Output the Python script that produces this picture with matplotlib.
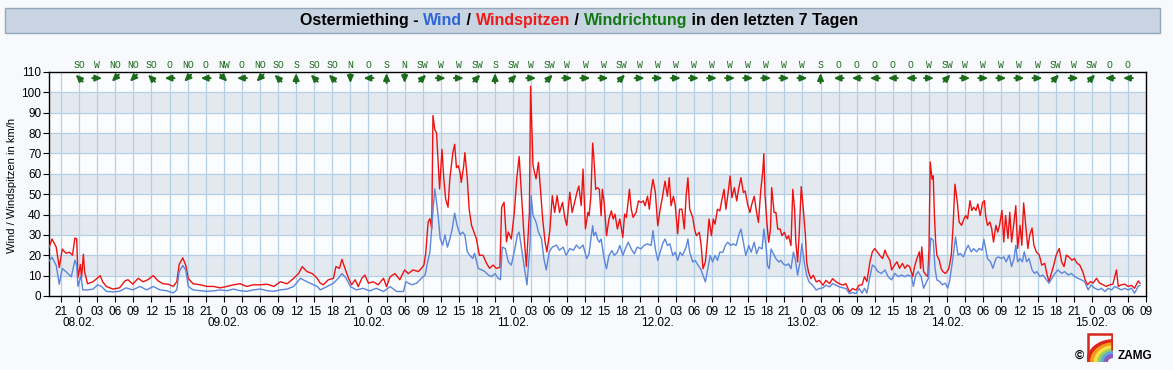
import matplotlib
matplotlib.use("Agg")
import matplotlib.pyplot as plt
from matplotlib.patches import Rectangle, Arc
from matplotlib.transforms import offset_copy
import numpy as np

plt.rcParams['font.family'] = ['Liberation Sans', 'DejaVu Sans']

# hours since 08.02. 00:00, km/h
gust_pts = [
    (-5.1, 23), (-4.5, 28), (-3.8, 24), (-3.3, 14), (-2.8, 23), (-2.2, 21), (-1.6, 21.5), (-1.1, 20),
    (-0.7, 28.5), (-0.4, 28), (-0.2, 9), (0.2, 15.5), (0.4, 9), (0.7, 20.5), (0.9, 12), (1.4, 6),
    (2.3, 7), (3.1, 9), (3.5, 10), (3.9, 7), (4.5, 4.7), (5.6, 3.4), (6.7, 4), (7.6, 7.4), (8.1, 8),
    (8.9, 5.8), (9.8, 8.7), (10.6, 7), (11.4, 8), (12.3, 10), (13.1, 7.4), (13.9, 6), (14.8, 5.8),
    (15.6, 4.7), (16.2, 7), (16.6, 15.5), (17.2, 18.7), (17.7, 15), (18.1, 8.7), (18.9, 6), (20.1, 5.5),
    (21.2, 4.7), (22.3, 4.7), (23.4, 4), (24.5, 4.7), (25.6, 5.5), (26.7, 6), (27.8, 4.7), (28.9, 5.5),
    (30.1, 5.5), (31.2, 5.8), (32.3, 4.7), (33.4, 7), (34.5, 6), (35.6, 8.7), (36.4, 11), (37.0, 14.4),
    (37.8, 12), (38.7, 11), (39.5, 8.7),
    (40.0, 6.3), (40.5, 5.5), (41.3, 7.9), (42.2, 8.7), (42.6, 14.4), (43.2, 13.6), (43.6, 18), (44.1, 13.6),
    (44.7, 8.7), (45.2, 5.5), (45.8, 8), (46.3, 4.6), (46.9, 8.7), (47.4, 10.3), (48.0, 6.3), (48.8, 7),
    (49.6, 5.5), (50.5, 8.7), (51.0, 4.6), (51.6, 9.5), (52.4, 11), (53.2, 8), (54.0, 12.8), (54.6, 11),
    (55.4, 12.8), (56.3, 12), (56.8, 13.6), (57.2, 15.2), (57.5, 20.9), (57.9, 36.3), (58.2, 38), (58.5, 33),
    (58.7, 88.6), (59.0, 81.8), (59.3, 80), (59.6, 64), (59.8, 52.6), (60.2, 72), (60.5, 57.5), (60.8, 47.7),
    (61.2, 43.6), (61.5, 57.5), (62.0, 70.4), (62.3, 74.5), (62.6, 63), (62.9, 64), (63.2, 60.7), (63.4, 55.8),
    (63.8, 64), (64.0, 70.4), (64.4, 57.5), (64.7, 42.8), (65.1, 34.7), (65.5, 31.4), (65.9, 28.2), (66.4, 20),
    (67.0, 20), (67.6, 16), (68.1, 13.6), (68.7, 15.2), (69.2, 13.6), (69.8, 14), (70.1, 43.6), (70.5, 46),
    (70.9, 26.6), (71.2, 31.4), (71.7, 28), (72.2, 41), (72.6, 57.5), (73.0, 68.5), (73.4, 49.3), (73.8, 30),
    (74.2, 14.4), (74.7, 41), (74.9, 103), (75.3, 64), (75.8, 57.5), (76.2, 65.6), (76.5, 54), (76.9, 38),
    (77.3, 26.6), (77.6, 21.7), (78.1, 32.3), (78.5, 49.3), (78.9, 41), (79.3, 49.3), (79.7, 41), (80.2, 46),
    (80.6, 38), (80.9, 34.7), (81.4, 51), (81.8, 41), (82.2, 46), (82.6, 51), (82.9, 54), (83.3, 44.4),
    (83.6, 62.3), (84.0, 33), (84.4, 41),
    (84.6, 39.4), (84.9, 49), (85.2, 75.1), (85.4, 67.8), (85.7, 52.4), (86.0, 53.2), (86.3, 52.4), (86.6, 39.4),
    (86.8, 52.4), (87.1, 45.9), (87.5, 29.6), (87.9, 37.8), (88.3, 41.8), (88.6, 37.8), (88.9, 40.2), (89.3, 32.9),
    (89.7, 37.8), (90.2, 28.8), (90.5, 40.2), (90.8, 38.6), (91.3, 52.4), (91.6, 42.6), (91.9, 38.6), (92.4, 41),
    (92.8, 46.7), (93.2, 45.9), (93.6, 46.7), (93.9, 44.3), (94.3, 49), (94.6, 42.6), (94.9, 51.6), (95.2, 57.3),
    (95.6, 50.8), (96.0, 34.5), (96.4, 42.6), (96.8, 49), (97.2, 56.4), (97.6, 49), (97.9, 58.1), (98.2, 44.3),
    (98.6, 49), (98.9, 44.3), (99.3, 30.5), (99.6, 42.6), (100.0, 42.6), (100.4, 32.9), (100.7, 49), (101.0, 58.1),
    (101.3, 42.6), (101.8, 38.6), (102.1, 32.9), (102.4, 29.6), (102.9, 31.3), (103.2, 24.8), (103.5, 13.4),
    (103.9, 16.7), (104.2, 26.4), (104.5, 37.8), (104.9, 29.6), (105.2, 37.8), (105.5, 35.3), (105.9, 42.6),
    (106.3, 41.8), (106.6, 46.7), (107.0, 52.4), (107.3, 42.6), (107.6, 49), (108.0, 58.9), (108.3, 48.3),
    (108.7, 53.2), (109.1, 46.7), (109.4, 52.4), (109.8, 58.1), (110.2, 50.8), (110.5, 51.6), (110.9, 45.1),
    (111.3, 41), (111.6, 45.1), (112.0, 49), (112.4, 41), (112.7, 36.1), (113.1, 52.4), (113.4, 60.5),
    (113.6, 69.9), (113.8, 49), (114.1, 36.1), (114.4, 26.4), (114.7, 32.9), (114.9, 53.2), (115.3, 41),
    (115.6, 41), (115.9, 32.9), (116.3, 32.9), (116.6, 29.6), (117.0, 31.3), (117.4, 28), (117.7, 29.6),
    (118.1, 24.8), (118.4, 52.4), (118.7, 42.6), (118.9, 26.4), (119.2, 16.7), (119.5, 32.9), (119.8, 53.7),
    (120.1, 44.3), (120.5, 29.6), (120.7, 16.7), (121.0, 11.8), (121.4, 8.5), (121.8, 10.2), (122.3, 6.9),
    (122.8, 7.7), (123.4, 5.3), (123.9, 7.7), (124.5, 6.1), (125.0, 8.5), (125.6, 6.9), (126.1, 6.1),
    (126.7, 5.3), (127.2, 6.1), (127.8, 2), (128.3, 3.7), (128.9, 2.9), (129.4, 5.3),
    (129.9, 5.5), (130.3, 9.5), (130.7, 7.1), (131.2, 16.8), (131.6, 21.7), (132.0, 23.3), (132.4, 21.7),
    (132.8, 20.1), (133.3, 18.4), (133.7, 22.5), (134.0, 20.1), (134.5, 17.6), (134.8, 12.8), (135.3, 15.2),
    (135.7, 16.8), (136.1, 13.6), (136.6, 16), (137.0, 13.6), (137.4, 15.2), (137.8, 14.4), (138.3, 9.5),
    (138.6, 14.4), (139.0, 18.4), (139.4, 21.7), (139.6, 13.6), (139.8, 24.1), (140.1, 12), (140.5, 10.3),
    (140.8, 9.5), (141.0, 23.3), (141.2, 65.8), (141.5, 57.4), (141.7, 59), (141.9, 39.5), (142.1, 26.5),
    (142.3, 20.1), (142.7, 17.6), (143.0, 13.6), (143.3, 12), (143.7, 11.1), (144.0, 12), (144.3, 13.6),
    (144.7, 20.1), (145.0, 34.7), (145.3, 54.9), (145.7, 46), (146.0, 36.3), (146.4, 34.7), (146.8, 37.9),
    (147.1, 39.5), (147.4, 37.9), (147.8, 46.8), (148.1, 42), (148.4, 43.6), (148.8, 42), (149.1, 45.2),
    (149.5, 39.5), (149.9, 46), (150.2, 46.8), (150.4, 39.5), (150.7, 34.7), (151.1, 36.3), (151.4, 33),
    (151.7, 26.5), (152.1, 34.7), (152.4, 31.4), (152.7, 34.7), (153.1, 42), (153.4, 26.5), (153.7, 39.5),
    (154.1, 28.2), (154.4, 41.1), (154.7, 26.5), (155.1, 36.3), (155.4, 44.4), (155.7, 23.3), (156.1, 34.7),
    (156.4, 24.9), (156.7, 45.7), (157.1, 33), (157.4, 23.3), (157.7, 29.8), (158.1, 33.4), (158.4, 24.9),
    (158.8, 21.7), (159.3, 20.1), (159.7, 15.2), (160.2, 16), (160.6, 10.3), (160.9, 7.1), (161.3, 11.1),
    (161.7, 15.2), (162.1, 20.1), (162.6, 23.3), (163.0, 16.8), (163.4, 14.4), (163.8, 20.1), (164.2, 19.2),
    (164.7, 17.6), (165.1, 18.4), (165.6, 16), (166.0, 15.2), (166.5, 12), (166.9, 7.9), (167.3, 5.5),
    (167.8, 7.1), (168.2, 6.3), (168.8, 8.7), (169.3, 6.3), (169.9, 5.5), (170.4, 4.7), (171.0, 5.5),
    (171.5, 5.8), (172.1, 12.8), (172.4, 4.7), (172.9, 5.5), (173.5, 5.8), (174.0, 4.7), (174.6, 5.2),
    (175.1, 3.8), (175.7, 7.4), (176.0, 6.3),
]

wind_pts = [
    (-5.1, 16.8), (-4.5, 19), (-3.8, 15), (-3.3, 5.8), (-2.8, 13.5), (-2.2, 12), (-1.3, 9.4), (-0.7, 17.6),
    (-0.4, 15), (-0.2, 4.7), (0.3, 10), (0.6, 3), (1.4, 3), (2.3, 3.4), (3.1, 5.5), (3.7, 4.7), (4.5, 2.3),
    (5.6, 2), (6.7, 2.3), (7.8, 4), (8.9, 3), (10.1, 4.7), (11.2, 3), (12.3, 4.7), (13.4, 3), (14.5, 2.6),
    (15.6, 1.5), (16.2, 3), (16.6, 12), (17.2, 15), (17.7, 12.7), (18.1, 4.7), (18.9, 3), (20.1, 2.6),
    (21.2, 2.3), (22.3, 2.5), (23.4, 3), (24.5, 2.6), (25.6, 3.4), (26.7, 2.6), (27.8, 2.3), (28.9, 3),
    (30.1, 3.4), (31.2, 2.6), (32.3, 2.3), (33.4, 3), (34.5, 3.4), (35.6, 4.7), (36.7, 8.7), (37.8, 7),
    (38.9, 5.5), (39.5, 4.7),
    (40.0, 3), (41.1, 4.6), (42.2, 6.3), (43.0, 8.7), (43.6, 11), (44.3, 8.7), (45.0, 4.6), (46.0, 3),
    (47.1, 3.8), (48.2, 2.5), (49.3, 3.8), (50.5, 2.2), (51.6, 4.6), (52.7, 2.2), (53.8, 2.2), (54.2, 7),
    (55.2, 5.5), (56.0, 6.3), (56.8, 8.7), (57.4, 10.3), (57.7, 15.2), (58.2, 21.7), (58.6, 38), (59.0, 52.6),
    (59.3, 46), (59.6, 38), (59.9, 28.2), (60.3, 25), (60.7, 30), (61.1, 24), (61.5, 28), (61.9, 33),
    (62.3, 40.7), (62.7, 34.7), (63.2, 30), (63.6, 31.4), (64.0, 30), (64.4, 21.7), (64.8, 20), (65.3, 18.4),
    (65.6, 21), (66.2, 13.6), (66.8, 12.8), (67.3, 12), (67.9, 10.3), (68.4, 9.5), (69.0, 11), (69.5, 8.7),
    (69.9, 8), (70.2, 24), (70.7, 23.3), (71.2, 16.8), (71.7, 15.2), (72.3, 23.3), (72.7, 30), (73.0, 31.4),
    (73.4, 23.3), (73.8, 15.2), (74.3, 5.5), (74.8, 25), (75.0, 49.3), (75.3, 39.6), (75.8, 36.3), (76.2, 31.4),
    (76.7, 28.2), (77.1, 18.4), (77.5, 12.8), (78.0, 21.7), (78.5, 24), (79.2, 25), (79.7, 22.5), (80.3, 24),
    (80.8, 20), (81.4, 23.3), (82.0, 22.5), (82.5, 25), (83.0, 23.3), (83.6, 25), (84.2, 18.4),
    (84.6, 20.7), (84.9, 28), (85.2, 34.5), (85.4, 29.6), (85.7, 31.3), (86.0, 28), (86.3, 26.4), (86.6, 28),
    (86.8, 24), (87.2, 16.7), (87.5, 13.4), (87.9, 19.9), (88.4, 22.3), (88.8, 19.9), (89.3, 21.5), (89.7, 24.8),
    (90.2, 19.9), (90.6, 23.1), (91.1, 26.4), (91.6, 23.1), (92.1, 20.7), (92.6, 24), (93.2, 23.1), (93.7, 24.8),
    (94.3, 25.6), (94.9, 24.8), (95.2, 32.1), (95.6, 23.1), (96.0, 17.5), (96.4, 21.5), (96.8, 25.6), (97.2, 28),
    (97.6, 24.8), (98.0, 25.6), (98.5, 19.9), (98.9, 21.5), (99.3, 17.5), (99.7, 21.5), (100.1, 19.9),
    (100.7, 24), (101.0, 28), (101.3, 21.5), (101.8, 16.7), (102.2, 17.5), (102.7, 15), (103.1, 13.4),
    (103.5, 10.2), (103.9, 6.9), (104.3, 13.4), (104.7, 19.9), (105.1, 16.7), (105.5, 19.9), (105.9, 17.5),
    (106.3, 21.5), (106.8, 21.5), (107.2, 24.8), (107.6, 26.4), (108.1, 24.8), (108.5, 25.6), (109.0, 24.8),
    (109.4, 29.6), (109.8, 32.9), (110.2, 26.4), (110.6, 19.9), (111.1, 24.8), (111.5, 21.5), (112.0, 26.4),
    (112.4, 20.7), (112.8, 24), (113.3, 23.1), (113.6, 32.9), (114.0, 23.1), (114.2, 15), (114.5, 13.4),
    (114.8, 23.1), (115.2, 20.7), (115.6, 18.3), (116.1, 16.7), (116.4, 17.5), (116.8, 15.8), (117.3, 15),
    (117.7, 15.8), (118.1, 13.4), (118.5, 21.5), (118.8, 18.3), (119.2, 10.2), (119.6, 16.7), (119.9, 25.6),
    (120.3, 16.7), (120.7, 10.2), (121.1, 6.9), (121.7, 5.3), (122.3, 2.9), (122.8, 3.7), (123.4, 4),
    (123.9, 5.3), (124.5, 4.5), (125.0, 6.1), (125.6, 5.3), (126.1, 4.5), (126.7, 4), (127.2, 3.7),
    (127.8, 1.2), (128.3, 1.7), (128.9, 1.2), (129.4, 3.7),
    (129.9, 1.4), (130.3, 3.8), (130.7, 1.4), (131.2, 9.5), (131.6, 15.2), (132.0, 14.4), (132.5, 12),
    (133.1, 11.1), (133.7, 12.8), (134.2, 9.5), (134.8, 7.9), (135.3, 11.1), (135.9, 9.5), (136.4, 10.3),
    (137.0, 9.5), (137.5, 10.3), (138.1, 9.5), (138.4, 4.7), (138.8, 10.3), (139.2, 12), (139.7, 9.5),
    (140.1, 3.8), (140.6, 7.1), (140.9, 8.7), (141.1, 18.4), (141.3, 28.5), (141.7, 27.4), (142.0, 13.6),
    (142.3, 7.9), (142.8, 7.1), (143.2, 5.5), (143.7, 6.3), (144.1, 3.8), (144.4, 7.1), (144.8, 15.2),
    (145.1, 21.7), (145.4, 29), (145.8, 20.1), (146.2, 20.9), (146.7, 19.2), (147.1, 22.5), (147.5, 24.9),
    (148.0, 21.7), (148.4, 23.3), (148.9, 21.7), (149.3, 23.3), (149.8, 22.5), (150.1, 27.8), (150.4, 23.3),
    (150.7, 18.4), (151.2, 16.8), (151.6, 13.6), (152.1, 18.4), (152.5, 19.2), (153.0, 18.4), (153.4, 19.2),
    (153.8, 16.8), (154.3, 20.1), (154.7, 14.4), (155.1, 18.4), (155.4, 24.9), (155.7, 16.8), (156.1, 18.4),
    (156.5, 16.8), (156.8, 21.7), (157.2, 16.8), (157.6, 18.4), (158.1, 12.8), (158.5, 11.1), (158.9, 12),
    (159.4, 9.5), (159.9, 10.3), (160.5, 7.9), (160.9, 6.3), (161.4, 8.7), (161.9, 11.1), (162.4, 12.8),
    (163.0, 11.1), (163.5, 12), (164.1, 10.3), (164.6, 11.1), (165.2, 9.5), (165.7, 8.7), (166.3, 7.9),
    (166.8, 7.1), (167.4, 3), (167.9, 5.5), (168.5, 3.8), (169.1, 3), (169.6, 3.8), (170.2, 2.2), (170.7, 3.8),
    (171.3, 3), (171.8, 4.7), (172.4, 3.8), (172.9, 3), (173.5, 3.8), (174.0, 3), (174.6, 3.8), (175.1, 1.4),
    (175.7, 4.7), (176.0, 5.2),
]

# wind direction every 3 h starting 08.02. 00:00
dir_labels = ["SO", "W", "NO", "NO", "SO", "O", "NO", "O", "NW", "O", "NO", "SO", "S", "SO", "SO",
              "N", "O", "S", "N", "SW", "W", "W", "SW", "S", "SW", "W", "SW", "W", "W", "W",
              "SW", "W", "W", "W", "W", "W", "W", "W", "W", "W", "W", "S", "O", "O", "O",
              "O", "O", "W", "SW", "W", "W", "W", "W", "W", "SW", "W", "SW", "O", "O"]
compass = {"N": 0, "NO": 45, "O": 90, "SO": 135, "S": 180, "SW": 225, "W": 270, "NW": 315}

day_labels = ["08.02.", "09.02.", "10.02.", "11.02.", "12.02.", "13.02.", "14.02.", "15.02."]

W, H = 1173, 370
fig = plt.figure(figsize=(W / 100, H / 100), dpi=100, facecolor='#f7f9fc')

# title bar
fig.patches.append(Rectangle((5 / W, 1 - 33 / H), 1155 / W, 25 / H, transform=fig.transFigure,
                             facecolor='#c8d4e1', edgecolor='#93a6ba', linewidth=1))
pieces = [("Ostermiething - ", 'black'), ("Wind", '#2e66d6'), (" / ", 'black'),
          ("Windspitzen", '#ee1b1b'), (" / ", 'black'), ("Windrichtung", '#137a13'),
          (" in den letzten 7 Tagen", 'black')]
r = fig.canvas.get_renderer()
texts = [fig.text(0, 1 - 20.5 / H, s, color=c, fontsize=11.5, fontweight='bold', va='center')
         for s, c in pieces]
widths = [t.get_window_extent(r).width for t in texts]
x0 = 579 - sum(widths) / 2
for t, w_ in zip(texts, widths):
    t.set_x(x0 / W)
    x0 += w_

ax = fig.add_axes([49 / W, 74 / H, (1146 - 49) / W, 224 / H])
ax.set_facecolor('#fbfcfe')
for lo in range(10, 110, 20):
    ax.axhspan(lo, lo + 10, color='#e4e9f0', zorder=0, lw=0)

ticks = np.arange(-3, 178, 3)
for t in ticks:
    ax.axvline(t, color='#b4d0e6', lw=0.9, zorder=1)
for v in range(10, 110, 10):
    ax.axhline(v, color='#b4d0e6', lw=0.9, zorder=1)

gh, gv = zip(*gust_pts)
wh, wv = zip(*wind_pts)
ax.plot(gh, gv, color='#ee1111', lw=1.0, zorder=3)
ax.plot(wh, wv, color='#5b86dc', lw=1.0, zorder=4)

ax.set_xlim(-5, 177)
ax.set_ylim(0, 110)
ax.set_yticks(range(0, 111, 10))
ax.set_xticks(ticks)
ax.set_xticklabels(['0' if t % 24 == 0 else '%02d' % (t % 24) for t in ticks])
ax.tick_params(axis='both', labelsize=8.5, length=4, width=0.8, pad=1.5, direction='out')
ax.tick_params(axis='x', pad=3)
for s in ax.spines.values():
    s.set_color('black')
    s.set_linewidth(1)

for i, d in enumerate(day_labels):
    ax.text(24 * i, -0.12, d, transform=ax.get_xaxis_transform(), ha='center', va='center',
            fontsize=8.5)

# direction arrows and labels
green = '#1b6b1b'
L = 3.6
for i, d in enumerate(dir_labels):
    h = 3 * i
    ang = np.deg2rad(compass[d] + 180)
    dx, dy = np.sin(ang), np.cos(ang)
    head = offset_copy(ax.transData, fig=fig, x=dx * L, y=dy * L, units='points')
    ax.annotate('', xy=(h, 107), xycoords=head, xytext=(-2 * dx * L, -2 * dy * L),
                textcoords='offset points', annotation_clip=False,
                arrowprops=dict(arrowstyle='-|>,head_length=0.45,head_width=0.2', color=green,
                                lw=1.4, mutation_scale=9, shrinkA=0, shrinkB=0))
    ax.annotate(d, xy=(h, 110), xytext=(0, 1.5), textcoords='offset points', ha='center',
                va='bottom', fontsize=7, color=green, family=['Liberation Mono', 'DejaVu Sans Mono'],
                annotation_clip=False)

fig.text(12 / W, 1 - 185 / H, "Wind / Windspitzen in km/h", rotation=90, ha='center', va='center',
         fontsize=8)

# ZAMG logo
lax = fig.add_axes([1087 / W, 1 - 362 / H, 26 / W, 29 / H])
lax.set_xlim(0, 1)
lax.set_ylim(0, 1)
lax.axis('off')
lax.plot([0.04, 0.04, 0.96, 0.96], [0.2, 0.96, 0.96, 0.45], color='#d42a1e', lw=1.8,
         solid_joinstyle='miter')
for rad, col in zip([0.95, 0.8, 0.66, 0.52, 0.4, 0.28],
                    ['#e0261b', '#f59a1b', '#f5e04a', '#9ccf5a', '#5aa9e0', '#8b5fc2']):
    lax.add_patch(Arc((1.0, 0.0), 2 * rad, 1.5 * rad, theta1=90, theta2=180, color=col, lw=3.2))
fig.text(1079 / W, 1 - 356 / H, "©", fontsize=9, ha='center', va='center', fontweight='bold')
fig.text(1118 / W, 1 - 356 / H, "ZAMG", fontsize=8.5, ha='left', va='center', fontweight='bold')

fig.savefig('out.png', dpi=100, facecolor=fig.get_facecolor())
